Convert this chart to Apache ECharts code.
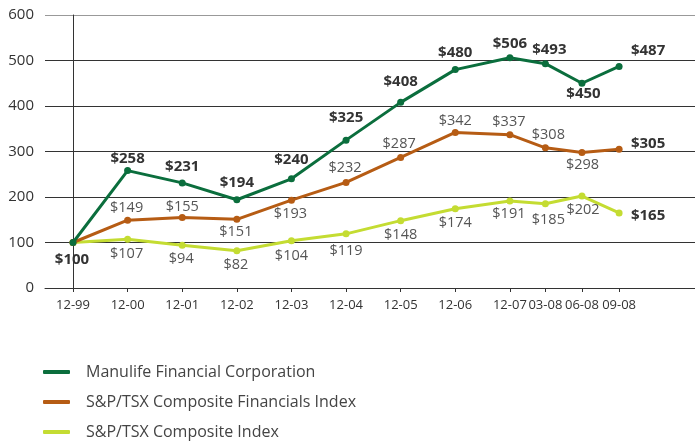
<!DOCTYPE html>
<html>
<head>
<meta charset="utf-8">
<script src="https://cdn.jsdelivr.net/npm/echarts@6/dist/echarts.min.js"></script>
<style>html,body{margin:0;padding:0;background:#fff}#c{width:695px;height:441px}</style>
</head>
<body>
<div id="c"></div>
<script>
// ---- data ----
var categories = ['12-99','12-00','12-01','12-02','12-03','12-04','12-05','12-06','12-07','03-08','06-08','09-08'];
// slot of each category on the horizontal axis (years = 1 unit; 2008 quarters compressed as in the original)
var slots = [0,1,2,3,4,5,6,7,8,8.65,9.32,10];
var manulife = [100,258,231,194,240,325,408,480,506,493,450,487];
var financials = [100,149,155,151,193,232,287,342,337,308,298,305];
var composite = [100,107,94,82,104,119,148,174,191,185,202,165];
var seriesNames = ['Manulife Financial Corporation','S&P/TSX Composite Financials Index','S&P/TSX Composite Index'];
var yTicks = [0,100,200,300,400,500,600];

// ---- label placement (style only) ----
var offM = [[-1,17],[0,-12],[0,-16],[0,-17],[0,-19],[0,-22],[0,-21],[0,-17],[0,-14],[4,-14],[1.5,10],[29,-16]];
var offF = [null,[-1,-12],[0,-11],[-1,12.5],[-1,13.5],[-1,-15],[-1.5,-14],[0,-12],[-1,-13],[3,-12.5],[0.5,12.5],[29,-5.5]];
var offC = [null,[-1,15],[-1,13.5],[-1,14.5],[0,15.5],[0,17],[0,14],[0,14.5],[-1,12.7],[3,16.5],[1,13.5],[29,3]];

var FONT = '"Open Sans", sans-serif';

function build(values, offs, boldAll) {
  return values.map(function (v, i) {
    var o = offs[i];
    var last = i === values.length - 1;
    var bold = boldAll || last;
    return {
      value: [slots[i], v],
      label: o ? {
        show: true, position: 'inside', offset: o,
        formatter: '$' + v,
        fontFamily: FONT,
        fontSize: bold ? 15 : 14.5,
        fontWeight: bold ? 'bold' : 'normal',
        color: bold ? '#333' : '#555'
      } : { show: false }
    };
  });
}

var colors = ['#0b6e3d', '#b65c14', '#c4dc32'];
var chart = echarts.init(document.getElementById('c'), null, { renderer: 'canvas' });
var xMin = -0.513, xMax = 11.39;

function lineSeries(name, data, color, z) {
  return {
    name: name, type: 'line', data: data, z: z,
    symbol: 'circle', symbolSize: 7, showAllSymbol: true,
    lineStyle: { color: color, width: 3 },
    itemStyle: { color: color },
    emphasis: { disabled: true },
    animation: false
  };
}

function legendAt(name, top) {
  return {
    show: true, orient: 'vertical', left: 43, top: top,
    icon: 'roundRect', itemWidth: 27, itemHeight: 4, itemGap: 0,
    data: [name], padding: 0,
    textStyle: { fontFamily: FONT, fontSize: 16, color: '#444', padding: [0, 0, 0, 11], lineHeight: 18 },
    selectedMode: false
  };
}

chart.setOption({
  animation: false,
  color: colors,
  grid: { left: 45, right: 0, top: 15, bottom: 153, containLabel: false },
  xAxis: {
    type: 'value', min: xMin, max: xMax,
    axisLine: { show: true, lineStyle: { color: '#333', width: 1 } },
    axisTick: { show: true, length: 4, lineStyle: { color: '#333' }, customValues: slots },
    axisLabel: {
      customValues: slots, margin: 11, color: '#333', fontFamily: FONT, fontSize: 13,
      hideOverlap: false,
      formatter: function (v) {
        for (var i = 0; i < slots.length; i++) if (Math.abs(slots[i] - v) < 1e-6) return categories[i];
        return '';
      }
    },
    splitLine: { show: false }
  },
  yAxis: {
    type: 'value', min: yTicks[0], max: yTicks[yTicks.length - 1], interval: 100,
    axisLine: { show: true, lineStyle: { color: '#333', width: 1 } },
    axisTick: { show: false },
    axisLabel: { margin: 11, color: '#333', fontFamily: FONT, fontSize: 15 },
    splitLine: { show: true, lineStyle: { color: ['#333','#333','#333','#333','#333','#333','#999'], width: 1 } }
  },
  legend: [
    legendAt(seriesNames[0], 363),
    legendAt(seriesNames[1], 393),
    legendAt(seriesNames[2], 423)
  ],
  series: [
    lineSeries(seriesNames[2], build(composite, offC, false), colors[2], 2),
    lineSeries(seriesNames[1], build(financials, offF, false), colors[1], 3),
    lineSeries(seriesNames[0], build(manulife, offM, true), colors[0], 4)
  ]
});
</script>
</body>
</html>
